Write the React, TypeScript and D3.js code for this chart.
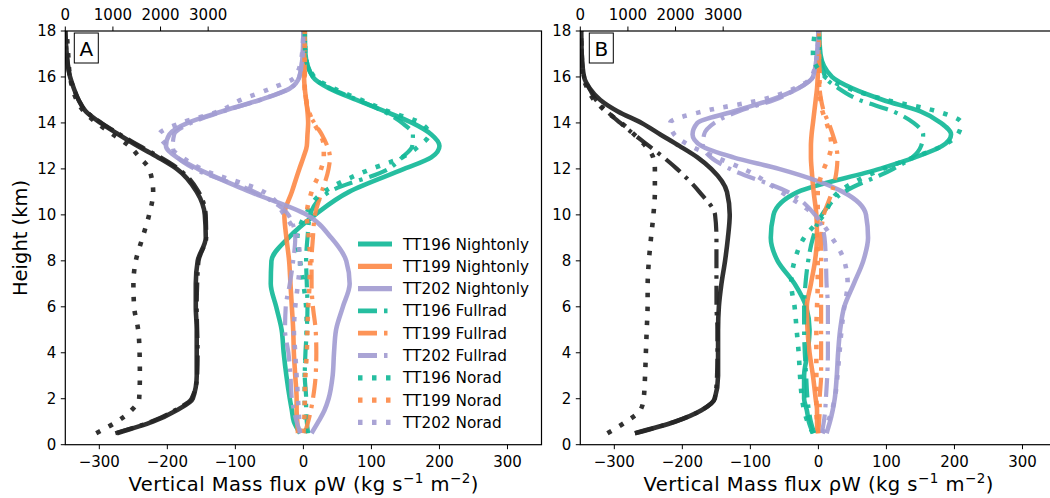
import React, { useEffect } from "react";
import * as d3 from "d3";

// Heights (km) at which profiles are sampled
const heights = [0.5, 1, 1.5, 2, 3, 4, 5, 6, 7, 8, 9, 10, 11, 12, 12.5, 13, 13.5, 14, 14.5, 15, 15.5, 16, 17, 18];

// Panel A – vertical mass flux (bottom axis)
const a196Night = [-5, -14, -17, -20, -25, -29, -32, -40, -48, -47, -22, 17, 67, 148, 188, 200, 188, 160, 120, 78, 38, 14, 3, 2];
const a199Night = [-8, -9, -10, -10, -12, -14, -15, -17, -19, -21, -25, -28, -17, -6, 0, 5, 6, 7, 6, 4, 2, 1, 1, 1];
const a202Night = [12, 22, 31, 37, 43, 45, 48, 58, 68, 63, 41, 5, -78, -155, -186, -202, -197, -170, -120, -64, -20, -6, -1, 0];
const a196Full = [7, 5, 4, 4, 2, 3, 5, 6, 5, 4, 6, 10, 38, 125, 145, 160, 161, 145, 118, 80, 40, 14, 3, 2];
const a199Full = [2, 7, 11, 14, 18, 19, 18, 14, 12, 12, 14, 17, 27, 37, 39, 35, 27, 16, 7, 4, 2, 2, 2, 2];
const a202Full = [-4, -10, -14, -17, -19, -22, -27, -26, -20, -15, -12, -22, -72, -160, -185, -192, -190, -165, -118, -64, -20, -6, -1, 0];
const a196Norad = [4, 3, 2, 2, 2, 4, 5, 4, 0, -5, -9, 3, 30, 100, 145, 170, 185, 172, 125, 85, 45, 16, 3, 2];
const a199Norad = [0, 1, 2, 2, 3, 5, 6, 7, 9, 10, 8, 5, 12, 26, 30, 30, 25, 15, 8, 4, 2, 2, 2, 2];
const a202Norad = [-5, -6, -7, -8, -10, -12, -14, -12, -8, -5, -9, -28, -58, -150, -178, -200, -212, -180, -125, -92, -48, -12, -2, 0];
// Panel A – black profiles (top axis)
const aBlackNight = [1084, 1838, 2340, 2676, 2760, 2760, 2760, 2740, 2740, 2780, 2950, 2930, 2760, 2340, 1950, 1520, 1120, 740, 430, 280, 180, 100, 30, 0];
const aBlackFull = [1050, 1800, 2300, 2650, 2770, 2780, 2770, 2760, 2770, 2800, 2960, 2950, 2800, 2380, 2000, 1560, 1150, 760, 440, 280, 180, 100, 30, 0];
const aBlackNorad = [650, 1080, 1392, 1551, 1566, 1560, 1530, 1445, 1430, 1480, 1620, 1760, 1845, 1760, 1560, 1340, 1000, 660, 390, 240, 150, 100, 60, 30];

// Panel B
const b196Night = [-8, -14, -17, -21, -21, -16, -13, -18, -35, -60, -70, -66, -30, 90, 142, 182, 195, 180, 150, 95, 50, 20, 3, 1];
const b199Night = [-1, -2, -2, -4, -8, -13, -16, -17, -11, -5, -2, -3, -7, -10, -11, -11, -10, -8, -6, -4, -2, -1, 0, 0];
const b202Night = [12, 17, 21, 24, 27, 29, 32, 38, 52, 66, 73, 70, 36, -58, -125, -172, -185, -178, -125, -70, -30, -8, -2, 0];
const b196Full = [-6, -11, -14, -16, -18, -20, -21, -21, -19, -15, -8, 5, 38, 110, 138, 151, 154, 140, 110, 60, 30, 10, 3, 1];
const b199Full = [0, 1, 2, 2, 4, 4, 4, 4, 4, 4, 4, 8, 20, 27, 28, 26, 21, 15, 8, 4, 2, 2, 1, 1];
const b202Full = [5, 8, 10, 11, 13, 14, 14, 14, 12, 11, 9, -5, -45, -130, -158, -170, -168, -153, -118, -65, -30, -8, -2, 0];
const b196Norad = [-8, -16, -21, -24, -27, -29, -32, -35, -40, -35, -21, 8, 30, 95, 140, 182, 205, 210, 175, 100, 45, 10, -8, -5];
const b199Norad = [0, -2, -3, -3, -3, -3, -3, -2, -1, -1, -2, -1, -1, 8, 15, 19, 17, 12, 6, 3, 1, 1, 1, 1];
const b202Norad = [6, 14, 20, 24, 28, 31, 34, 38, 43, 38, 20, -6, -55, -110, -150, -188, -212, -218, -170, -85, -35, -10, -2, 0];
const bBlackNight = [1147, 1985, 2545, 2824, 2893, 2893, 2893, 2910, 2964, 3040, 3100, 3138, 3080, 2750, 2460, 2080, 1680, 1287, 790, 420, 200, 80, 30, 20];
const bBlackFull = [1147, 1985, 2545, 2820, 2870, 2880, 2880, 2860, 2859, 2859, 2859, 2830, 2500, 2030, 1750, 1440, 1130, 840, 560, 330, 190, 80, 30, 20];
const bBlackNorad = [570, 960, 1260, 1330, 1360, 1377, 1395, 1413, 1415, 1440, 1485, 1535, 1566, 1566, 1530, 1370, 1130, 860, 540, 290, 150, 60, 30, 20];

const bottomTicks = [-300, -200, -100, 0, 100, 200, 300];
const topTicks = [0, 1000, 2000, 3000];
const yTicks = [0, 2, 4, 6, 8, 10, 12, 14, 16, 18];
const legendLabels = ["TT196 Nightonly", "TT199 Nightonly", "TT202 Nightonly", "TT196 Fullrad", "TT199 Fullrad", "TT202 Fullrad", "TT196 Norad", "TT199 Norad", "TT202 Norad"];

const TEAL = "#14b998";
const ORANGE = "#fd8b4a";
const PURPLE = "#a39dd2";
const BLACK = "#262626";
const FONT = "DejaVu Sans, sans-serif";

const STYLES: Record<string, { dash: string | undefined; w: number }> = {
  solid: { dash: undefined, w: 4.6 },
  full: { dash: "19,7,3.5,7", w: 4.2 },
  norad: { dash: "4.5,9.5", w: 4.6 },
};

const W = 1050;
const HGT = 498;
const PW = 476.2;
const TOP = 31;
const BOT = 444.7;

type Series = { vals: number[]; color: string; style: string };

function Panel({ x0, tag, colored, blacks, legend }: { x0: number; tag: string; colored: Series[]; blacks: Series[]; legend: boolean }) {
  const x = d3.scaleLinear().domain([-350, 350]).range([x0, x0 + PW]);
  const xt = d3.scaleLinear().domain([0, 10000]).range([x0, x0 + PW]);
  const y = d3.scaleLinear().domain([0, 18]).range([BOT, TOP]);
  const fmt = d3.format("d");
  const mkLine = (sc: d3.ScaleLinear<number, number>) =>
    d3.line<number>().x((v) => sc(v)).y((_, i) => y(heights[i])).curve(d3.curveMonotoneY);
  const lineB = mkLine(x);
  const lineT = mkLine(xt);
  const clipId = "clip" + tag;
  return (
    <g>
      <defs>
        <clipPath id={clipId}>
          <rect x={x0} y={TOP} width={PW} height={BOT - TOP} />
        </clipPath>
      </defs>
      <g clipPath={`url(#${clipId})`}>
        {colored.map((s, i) => (
          <path key={"c" + i} d={lineB(s.vals) || ""} fill="none" stroke={s.color} strokeWidth={STYLES[s.style].w}
            strokeDasharray={STYLES[s.style].dash} strokeLinecap="butt" strokeLinejoin="round" opacity={0.92} />
        ))}
        {blacks.map((s, i) => (
          <path key={"b" + i} d={lineT(s.vals) || ""} fill="none" stroke={s.color} strokeWidth={STYLES[s.style].w}
            strokeDasharray={STYLES[s.style].dash} strokeLinecap="butt" strokeLinejoin="round" opacity={0.95} />
        ))}
      </g>
      <rect x={x0} y={TOP} width={PW} height={BOT - TOP} fill="none" stroke="#000" strokeWidth={1.2} />
      {bottomTicks.map((t) => (
        <g key={"bt" + t}>
          <line x1={x(t)} x2={x(t)} y1={BOT} y2={BOT + 4.5} stroke="#000" strokeWidth={1} />
          <text x={x(t)} y={466.5} textAnchor="middle" fontSize={15} fontFamily={FONT}>{fmt(t)}</text>
        </g>
      ))}
      {topTicks.map((t) => (
        <g key={"tt" + t}>
          <line x1={xt(t)} x2={xt(t)} y1={TOP} y2={TOP - 4.5} stroke="#000" strokeWidth={1} />
          <text x={xt(t)} y={20} textAnchor="middle" fontSize={15} fontFamily={FONT}>{fmt(t)}</text>
        </g>
      ))}
      {yTicks.map((t) => (
        <g key={"yt" + t}>
          <line x1={x0} x2={x0 - 4.5} y1={y(t)} y2={y(t)} stroke="#000" strokeWidth={1} />
          <text x={x0 - 9} y={y(t) + 5.3} textAnchor="end" fontSize={15} fontFamily={FONT}>{t}</text>
        </g>
      ))}
      <text x={x0 + PW / 2} y={491} textAnchor="middle" fontSize={19.5} fontFamily={FONT} textLength={350} lengthAdjust="spacing">
        Vertical Mass flux ρW (kg s<tspan dy={-8} fontSize={13.5}>−1</tspan><tspan dy={8}> m</tspan><tspan dy={-8} fontSize={13.5}>−2</tspan><tspan dy={8}>)</tspan>
      </text>
      <rect x={x0 + 9} y={33} width={24} height={30} fill="#fff" stroke="#000" strokeWidth={1} />
      <text x={x0 + 21} y={55.5} textAnchor="middle" fontSize={20} fontFamily={FONT}>{tag}</text>
      {legend && (
        <g>
          {legendLabels.map((lab, i) => {
            const s = colored[i];
            const yy = 244 + i * 22.3;
            return (
              <g key={"lg" + i}>
                <line x1={358} x2={392} y1={yy} y2={yy} stroke={s.color} strokeWidth={STYLES[s.style].w + 0.6}
                  strokeDasharray={STYLES[s.style].dash} opacity={0.92} />
                <text x={403} y={yy + 5.5} fontSize={15.3} fontFamily={FONT}>{lab}</text>
              </g>
            );
          })}
        </g>
      )}
    </g>
  );
}

export default function App() {
  useEffect(() => {
    document.body.style.margin = "0";
  }, []);
  const coloredA: Series[] = [
    { vals: a196Night, color: TEAL, style: "solid" },
    { vals: a199Night, color: ORANGE, style: "solid" },
    { vals: a202Night, color: PURPLE, style: "solid" },
    { vals: a196Full, color: TEAL, style: "full" },
    { vals: a199Full, color: ORANGE, style: "full" },
    { vals: a202Full, color: PURPLE, style: "full" },
    { vals: a196Norad, color: TEAL, style: "norad" },
    { vals: a199Norad, color: ORANGE, style: "norad" },
    { vals: a202Norad, color: PURPLE, style: "norad" },
  ];
  const coloredB: Series[] = [
    { vals: b196Night, color: TEAL, style: "solid" },
    { vals: b199Night, color: ORANGE, style: "solid" },
    { vals: b202Night, color: PURPLE, style: "solid" },
    { vals: b196Full, color: TEAL, style: "full" },
    { vals: b199Full, color: ORANGE, style: "full" },
    { vals: b202Full, color: PURPLE, style: "full" },
    { vals: b196Norad, color: TEAL, style: "norad" },
    { vals: b199Norad, color: ORANGE, style: "norad" },
    { vals: b202Norad, color: PURPLE, style: "norad" },
  ];
  const blackA: Series[] = [
    { vals: aBlackNight, color: BLACK, style: "solid" },
    { vals: aBlackFull, color: BLACK, style: "full" },
    { vals: aBlackNorad, color: BLACK, style: "norad" },
  ];
  const blackB: Series[] = [
    { vals: bBlackNight, color: BLACK, style: "solid" },
    { vals: bBlackFull, color: BLACK, style: "full" },
    { vals: bBlackNorad, color: BLACK, style: "norad" },
  ];
  return (
    <svg width={W} height={HGT} style={{ position: "absolute", left: 0, top: 0, background: "#fff" }}>
      <rect width={W} height={HGT} fill="#fff" />
      <text transform={`translate(27,238) rotate(-90)`} textAnchor="middle" fontSize={19.5} fontFamily={FONT}>Height (km)</text>
      <Panel x0={65.3} tag="A" colored={coloredA} blacks={blackA} legend={true} />
      <Panel x0={580.3} tag="B" colored={coloredB} blacks={blackB} legend={false} />
    </svg>
  );
}
